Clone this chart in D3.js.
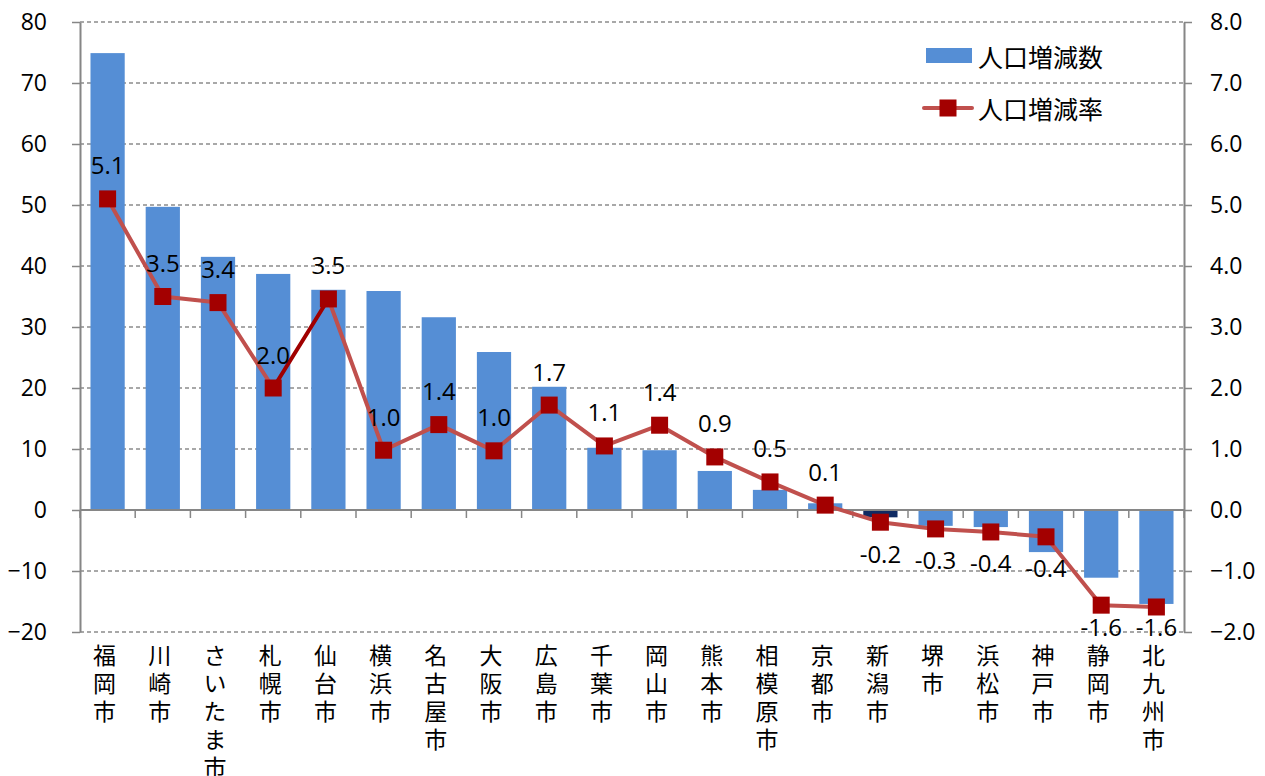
<!DOCTYPE html>
<html>
<head>
<meta charset="utf-8">
<script src="https://cdn.jsdelivr.net/npm/d3@7/dist/d3.min.js"></script>
<style>
  body { margin: 0; background: #fff; }
  svg text { font-family: "Open Sans", "Noto Sans", sans-serif; fill: #000; }
  .jp { font-family: "Noto Sans CJK JP", sans-serif; }
</style>
</head>
<body>
<svg id="chart"></svg>
<script>
// 政令市 人口増減数 / 人口増減率
var cities = ['福岡市','川崎市','さいたま市','札幌市','仙台市','横浜市','名古屋市','大阪市','広島市','千葉市',
  '岡山市','熊本市','相模原市','京都市','新潟市','堺市','浜松市','神戸市','静岡市','北九州市'];
var popChange = [74.9, 49.7, 41.5, 38.7, 36.1, 35.9, 31.6, 25.9, 20.2, 10.2,
  9.8, 6.4, 3.3, 1.1, -1.2, -2.6, -2.8, -6.9, -11.1, -15.4];
var rateChange = [5.1, 3.5, 3.4, 2.0, 3.46, 0.98, 1.4, 0.97, 1.72, 1.05,
  1.39, 0.87, 0.46, 0.08, -0.2, -0.31, -0.36, -0.44, -1.56, -1.59];
var leftTicks = [-20, -10, 0, 10, 20, 30, 40, 50, 60, 70, 80];
var rightTicks = [-2, -1, 0, 1, 2, 3, 4, 5, 6, 7, 8];
var legendNames = ['人口増減数', '人口増減率'];

var draw = function(){
    const width = 1265, height = 776;
    const left = 80, right = 1184, top = 22, bottom = 632;
    const barColor = '#558ed5', darkBar = '#0f2a62';
    const lineColor = '#c0504d', markColor = '#a30000', axisColor = '#868686';

    var svg = d3.select('svg#chart')
    .attr('width', width)
    .attr('height', height);

    let x = d3.scaleBand().domain(cities).range([left, right])
    .paddingInner(0.38).paddingOuter(0.19);
    let y1 = d3.scaleLinear().domain([-20, 80]).range([bottom, top]);
    let y2 = d3.scaleLinear().domain([-2, 8]).range([bottom, top]);

    // grid
    svg.append('g').selectAll('line')
    .data(leftTicks.filter(d => d !== 0))
    .enter().append('line')
    .attr('x1', left).attr('x2', right)
    .attr('y1', d => y1(d)).attr('y2', d => y1(d))
    .attr('stroke', '#8c8c8c').attr('stroke-width', 1.3)
    .attr('stroke-dasharray', '4,3');

    // bars
    svg.append('g').selectAll('rect')
    .data(popChange)
    .enter().append('rect')
    .attr('x', (d, i) => x(cities[i]))
    .attr('width', x.bandwidth())
    .attr('y', d => y1(Math.max(0, d)))
    .attr('height', d => Math.abs(y1(d) - y1(0)))
    .attr('fill', (d, i) => cities[i] === '新潟市' ? darkBar : barColor);

    // x axis at zero
    let xAxis = svg.append('g');
    xAxis.append('line')
    .attr('x1', left).attr('x2', right)
    .attr('y1', y1(0)).attr('y2', y1(0))
    .attr('stroke', axisColor).attr('stroke-width', 2);
    xAxis.selectAll('line.tk')
    .data(d3.range(cities.length + 1))
    .enter().append('line')
    .attr('class', 'tk')
    .attr('x1', i => left + i * x.step()).attr('x2', i => left + i * x.step())
    .attr('y1', y1(0)).attr('y2', y1(0) + 8)
    .attr('stroke', axisColor).attr('stroke-width', 1.5);

    // y axes
    let axL = svg.append('g')
    .attr('transform', 'translate(' + left + ',0)')
    .call(d3.axisLeft(y1).tickValues(leftTicks).tickSize(8).tickSizeOuter(0).tickPadding(25));
    let axR = svg.append('g')
    .attr('transform', 'translate(' + right + ',0)')
    .call(d3.axisRight(y2).tickValues(rightTicks).tickSize(8).tickSizeOuter(0).tickPadding(18)
      .tickFormat(d3.format('.1f')));
    [axL, axR].forEach(function(ax){
        ax.select('.domain').attr('stroke', axisColor).attr('stroke-width', 2);
        ax.selectAll('.tick line').attr('stroke', axisColor).attr('stroke-width', 1.5);
        ax.selectAll('.tick text')
        .style('font-family', '"Open Sans", sans-serif')
        .style('font-size', '23px').attr('fill', '#000');
    });

    // category labels (vertical)
    svg.append('g').selectAll('text')
    .data(cities).enter().append('text')
    .attr('class', 'jp')
    .attr('x', d => x(d) + x.bandwidth() / 2 - 3)
    .attr('y', 644)
    .style('writing-mode', 'vertical-rl')
    .style('letter-spacing', '5px')
    .style('font-size', '23px')
    .text(d => d);

    // rate line
    let pts = rateChange.map((d, i) => [x(cities[i]) + x.bandwidth() / 2, y2(d)]);
    let segs = svg.append('g');
    for(let i = 0; i < pts.length - 1; i++){
        segs.append('line')
        .attr('x1', pts[i][0]).attr('y1', pts[i][1])
        .attr('x2', pts[i + 1][0]).attr('y2', pts[i + 1][1])
        .attr('stroke', cities[i] === '札幌市' ? '#a00000' : lineColor)
        .attr('stroke-width', 4).attr('stroke-linecap', 'round');
    }
    const ms = 17;
    svg.append('g').selectAll('rect')
    .data(pts).enter().append('rect')
    .attr('x', d => d[0] - ms / 2).attr('y', d => d[1] - ms / 2)
    .attr('width', ms).attr('height', ms)
    .attr('fill', markColor);

    // data labels
    svg.append('g').selectAll('text')
    .data(rateChange).enter().append('text')
    .attr('text-anchor', 'middle')
    .attr('dominant-baseline', 'central')
    .attr('x', (d, i) => pts[i][0])
    .attr('y', (d, i) => d >= 0 ? pts[i][1] - 34 : Math.min(pts[i][1] + 31, 626))
    .style('font-size', '24px')
    .text(d => d.toFixed(1));

    // legend
    let lg = svg.append('g');
    lg.append('rect').attr('x', 926).attr('y', 48).attr('width', 46).attr('height', 15).attr('fill', barColor);
    lg.append('line').attr('x1', 924).attr('x2', 972).attr('y1', 108).attr('y2', 108)
    .attr('stroke', lineColor).attr('stroke-width', 4).attr('stroke-linecap', 'round');
    lg.append('rect').attr('x', 948 - ms / 2).attr('y', 108 - ms / 2).attr('width', ms).attr('height', ms).attr('fill', markColor);
    lg.selectAll('text.lg').data(legendNames).enter().append('text')
    .attr('class', 'jp lg')
    .attr('x', 978).attr('y', (d, i) => 56 + i * 52)
    .attr('dominant-baseline', 'central')
    .style('font-size', '25px')
    .text(d => d);
}

draw();
</script>
</body>
</html>
